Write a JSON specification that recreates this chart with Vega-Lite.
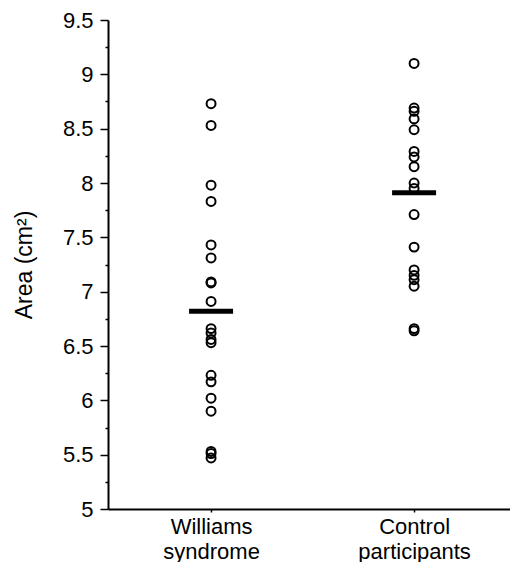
{
  "$schema": "https://vega.github.io/schema/vega-lite/v6.json",
  "width": 402,
  "height": 489,
  "padding": {"left": 13, "top": 9, "right": 0, "bottom": 0},
  "background": "white",
  "config": {
    "view": {"stroke": null},
    "font": "Liberation Sans",
    "axis": {"labelFont": "Liberation Sans", "titleFont": "Liberation Sans", "labelColor": "black", "titleColor": "black", "domainColor": "black", "tickColor": "black", "grid": false}
  },
  "datasets": {
    "points": [
      {"group": "Williams syndrome", "area": 8.73},
      {"group": "Williams syndrome", "area": 8.53},
      {"group": "Williams syndrome", "area": 7.98},
      {"group": "Williams syndrome", "area": 7.83},
      {"group": "Williams syndrome", "area": 7.43},
      {"group": "Williams syndrome", "area": 7.31},
      {"group": "Williams syndrome", "area": 7.09},
      {"group": "Williams syndrome", "area": 7.08},
      {"group": "Williams syndrome", "area": 6.91},
      {"group": "Williams syndrome", "area": 6.66},
      {"group": "Williams syndrome", "area": 6.62},
      {"group": "Williams syndrome", "area": 6.56},
      {"group": "Williams syndrome", "area": 6.53},
      {"group": "Williams syndrome", "area": 6.23},
      {"group": "Williams syndrome", "area": 6.17},
      {"group": "Williams syndrome", "area": 6.02},
      {"group": "Williams syndrome", "area": 5.9},
      {"group": "Williams syndrome", "area": 5.53},
      {"group": "Williams syndrome", "area": 5.51},
      {"group": "Williams syndrome", "area": 5.47},
      {"group": "Control participants", "area": 9.1},
      {"group": "Control participants", "area": 8.69},
      {"group": "Control participants", "area": 8.66},
      {"group": "Control participants", "area": 8.59},
      {"group": "Control participants", "area": 8.49},
      {"group": "Control participants", "area": 8.29},
      {"group": "Control participants", "area": 8.24},
      {"group": "Control participants", "area": 8.15},
      {"group": "Control participants", "area": 8.0},
      {"group": "Control participants", "area": 7.95},
      {"group": "Control participants", "area": 7.71},
      {"group": "Control participants", "area": 7.41},
      {"group": "Control participants", "area": 7.2},
      {"group": "Control participants", "area": 7.15},
      {"group": "Control participants", "area": 7.11},
      {"group": "Control participants", "area": 7.05},
      {"group": "Control participants", "area": 6.66},
      {"group": "Control participants", "area": 6.64}
    ],
    "means": [
      {"group": "Williams syndrome", "area": 6.82},
      {"group": "Control participants", "area": 7.91}
    ]
  },
  "encoding": {
    "x": {
      "field": "group",
      "type": "nominal",
      "sort": ["Williams syndrome", "Control participants"],
      "scale": {"type": "point", "padding": 0.49, "align": 0.518},
      "axis": {
        "title": null,
        "labelAngle": 0,
        "labelExpr": "split(datum.label, ' ')",
        "labelFontSize": 22,
        "labelLineHeight": 25,
        "labelPadding": 4,
        "labelBaseline": "top",
        "tickSize": 3,
        "tickWidth": 1.5,
        "domainWidth": 2
      }
    },
    "y": {
      "field": "area",
      "type": "quantitative",
      "scale": {"domain": [5, 9.5], "nice": false, "zero": false},
      "axis": {
        "title": "Area (cm²)",
        "titleFontSize": 23,
        "titleFontWeight": "normal",
        "titlePadding": 26,
        "values": [5, 5.25, 5.5, 5.75, 6, 6.25, 6.5, 6.75, 7, 7.25, 7.5, 7.75, 8, 8.25, 8.5, 8.75, 9, 9.25, 9.5],
        "labelExpr": "datum.value % 0.5 == 0 ? format(datum.value, '~g') : ''",
        "labelFontSize": 22,
        "labelOverlap": false,
        "labelFlush": false,
        "labelBound": false,
        "labelPadding": 7,
        "tickSize": {"condition": {"test": "datum.value % 0.5 == 0", "value": 8}, "value": 3},
        "tickWidth": 1.5,
        "domainWidth": 2
      }
    }
  },
  "layer": [
    {
      "data": {"name": "points"},
      "mark": {"type": "point", "shape": "circle", "filled": false, "stroke": "black", "strokeWidth": 2, "size": 80, "opacity": 1}
    },
    {
      "data": {"name": "means"},
      "mark": {"type": "tick", "orient": "horizontal", "color": "black", "size": 44, "thickness": 5, "opacity": 1}
    }
  ]
}
